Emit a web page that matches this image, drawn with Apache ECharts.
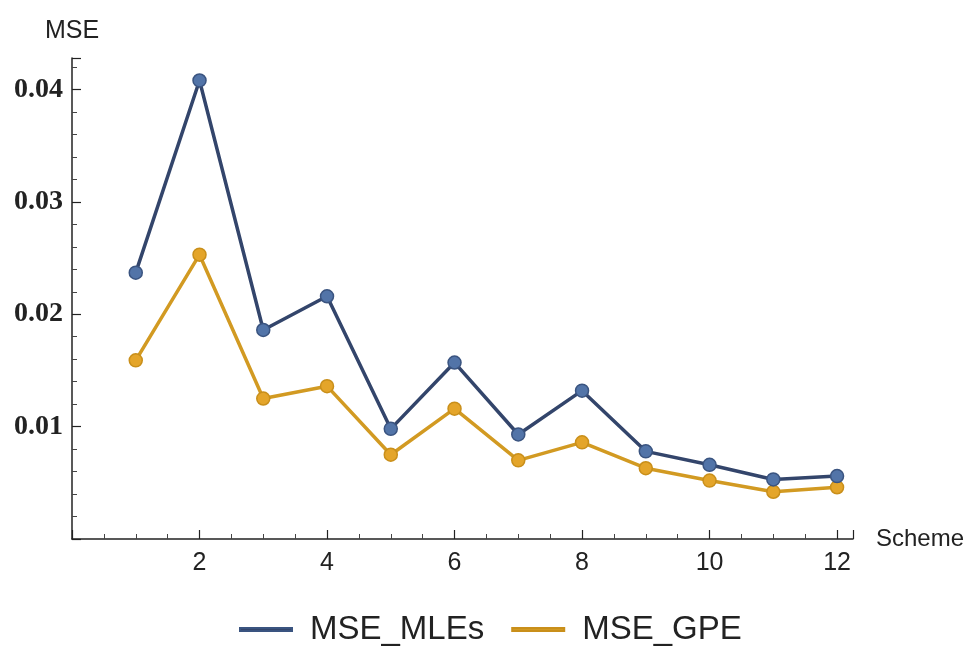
<!DOCTYPE html>
<html>
<head>
<meta charset="utf-8">
<script src="https://cdn.jsdelivr.net/npm/echarts@6/dist/echarts.min.js"></script>
<style>
html,body{margin:0;padding:0;background:#fff;}
#chart{width:976px;height:646px;}
</style>
</head>
<body>
<div id="chart"></div>
<script>
var schemes = [1,2,3,4,5,6,7,8,9,10,11,12];
var mseMLEs = [0.0237, 0.0408, 0.0186, 0.0216, 0.0098, 0.0157, 0.0093, 0.0132, 0.0078, 0.0066, 0.0053, 0.0056];
var mseGPE  = [0.0159, 0.0253, 0.0125, 0.0136, 0.0075, 0.0116, 0.0070, 0.0086, 0.0063, 0.0052, 0.0042, 0.0046];
var seriesNames = ['MSE_MLEs', 'MSE_GPE'];

function pairs(xs, ys){ return xs.map(function(x,i){ return [x, ys[i]]; }); }

var chart = echarts.init(document.getElementById('chart'), null, {renderer:'canvas'});
chart.setOption({
  animation: false,
  backgroundColor: '#ffffff',
  grid: { left: 72, right: 123, top: 58, bottom: 107, containLabel: false },
  xAxis: {
    type: 'value', min: 0, max: 12.25, interval: 2,
    name: 'Scheme', nameLocation: 'end', nameGap: 23,
    nameTextStyle: { fontFamily: 'Liberation Sans', fontSize: 24, color: '#222', verticalAlign: 'middle' },
    axisLine: { onZero: false, lineStyle: { color: '#222', width: 1.5 } },
    axisTick: { show: true, inside: true, length: 9, lineStyle: { color: '#222', width: 1.2 } },
    minorTick: { show: true, splitNumber: 4, length: 5, lineStyle: { color: '#444', width: 1 } },
    splitLine: { show: false },
    axisLabel: {
      fontFamily: 'Liberation Sans', fontSize: 25, color: '#222', margin: 12,
      showMaxLabel: false,
      formatter: function(v){ return (v === 0 || v % 2 !== 0) ? '' : String(v); }
    }
  },
  yAxis: {
    type: 'value', min: 0, max: 0.0428, interval: 0.01,
    name: 'MSE', nameLocation: 'end', nameGap: 14,
    nameTextStyle: { fontFamily: 'Liberation Sans', fontSize: 25, color: '#222', align: 'center' },
    axisLine: { onZero: false, lineStyle: { color: '#222', width: 1.5 } },
    axisTick: { show: true, inside: true, length: 9, lineStyle: { color: '#222', width: 1.2 } },
    minorTick: { show: true, splitNumber: 5, length: 5, lineStyle: { color: '#444', width: 1 } },
    splitLine: { show: false },
    axisLabel: {
      fontFamily: 'Liberation Serif', fontWeight: 'bold', fontSize: 28, color: '#222', margin: 9,
      showMaxLabel: false,
      formatter: function(v){
        var k = Math.round(v / 0.01);
        if (k === 0 || Math.abs(v - k * 0.01) > 1e-9) return '';
        return v.toFixed(2);
      }
    }
  },
  legend: {
    top: 608, left: 234,
    itemWidth: 52, itemHeight: 3, itemGap: 27,
    icon: 'rect',
    textStyle: { fontFamily: 'Liberation Sans', fontSize: 33, color: '#222', padding: [0, 0, 0, 13] },
    data: [
      { name: seriesNames[0], itemStyle: { color: '#33456b' } },
      { name: seriesNames[1], itemStyle: { color: '#d29a22' } }
    ]
  },
  series: [
    {
      name: seriesNames[0], type: 'line', data: pairs(schemes, mseMLEs),
      symbol: 'circle', symbolSize: 13,
      lineStyle: { color: '#33456b', width: 3.5 },
      itemStyle: { color: '#5274a8', borderColor: '#3a5480', borderWidth: 1.5 },
      z: 3
    },
    {
      name: seriesNames[1], type: 'line', data: pairs(schemes, mseGPE),
      symbol: 'circle', symbolSize: 13,
      lineStyle: { color: '#d29a22', width: 3.5 },
      itemStyle: { color: '#e4a52a', borderColor: '#c98f1a', borderWidth: 1.5 },
      z: 2
    }
  ]
});
</script>
</body>
</html>
